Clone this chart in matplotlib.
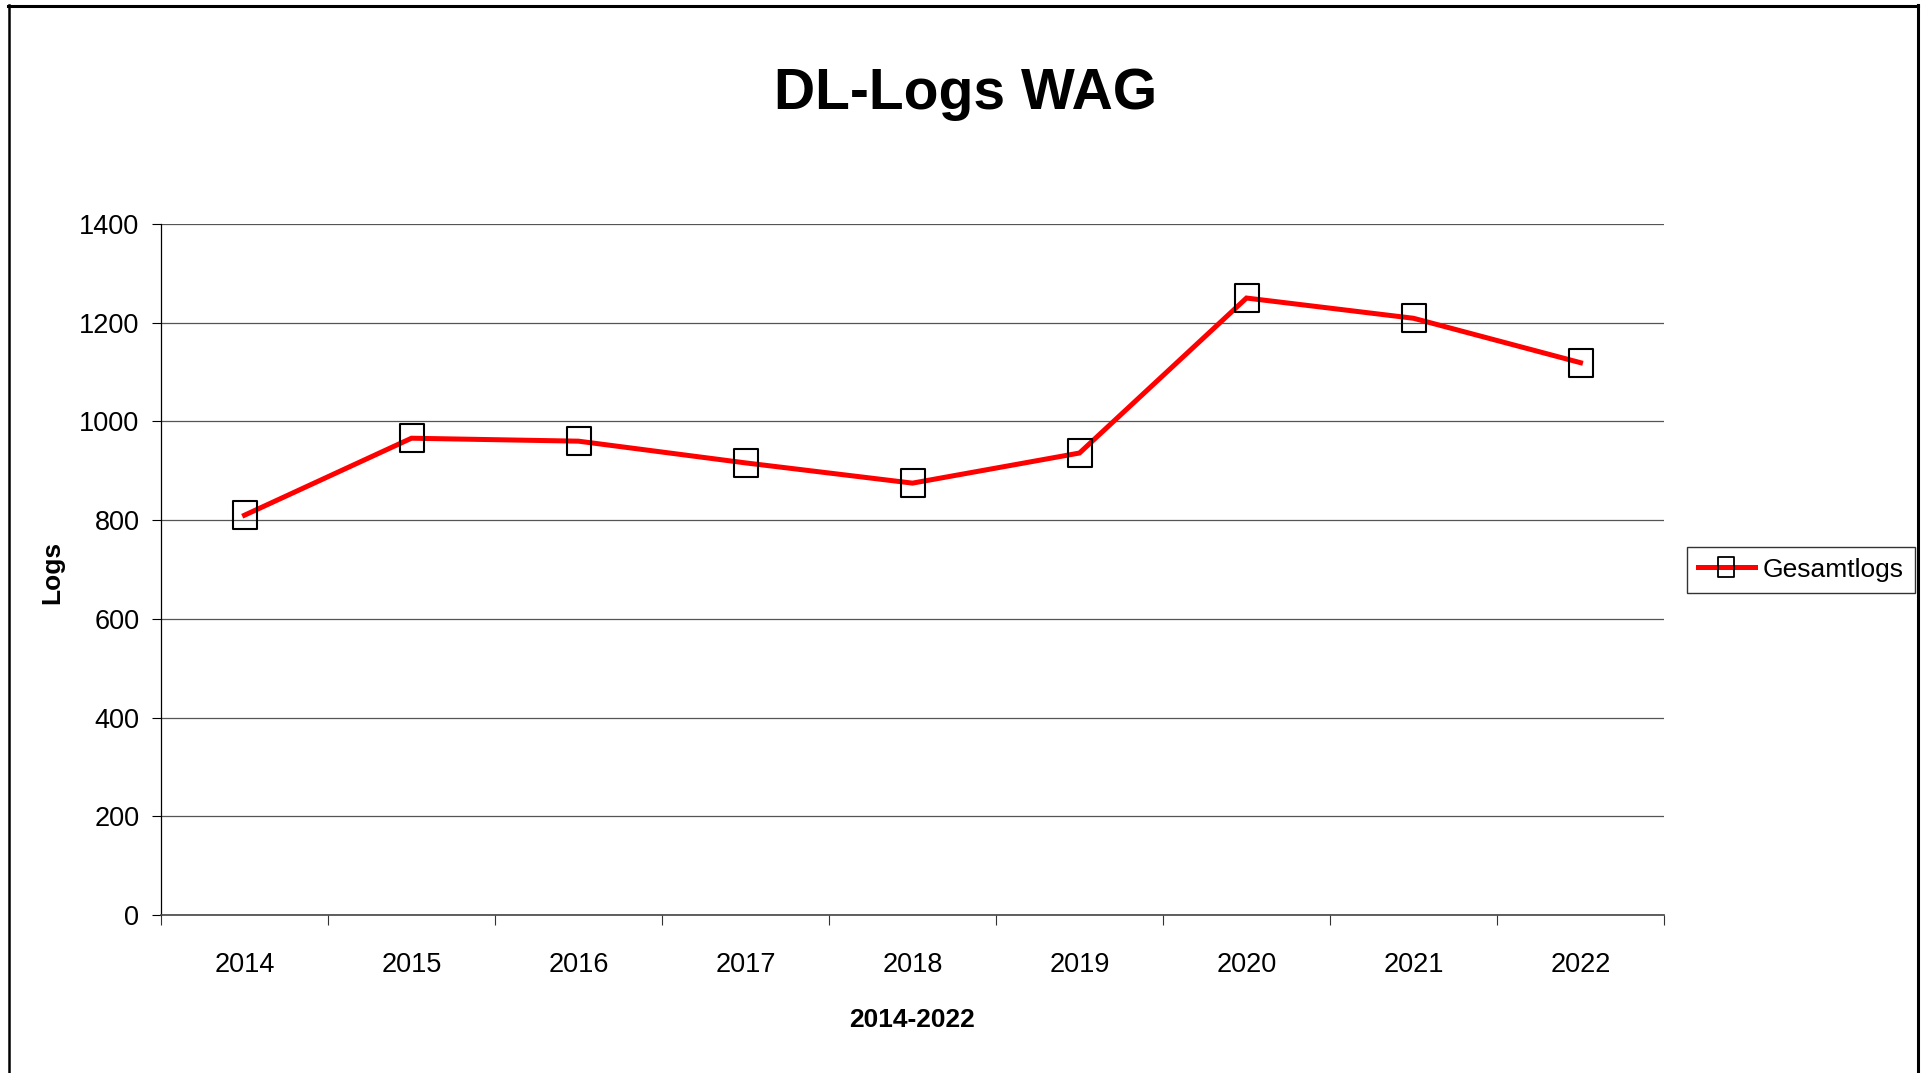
import matplotlib
matplotlib.use("Agg")
import matplotlib.pyplot as plt
from matplotlib.path import Path
from matplotlib.lines import Line2D

# ---- data ----
years = ["2014", "2015", "2016", "2017", "2018", "2019", "2020", "2021", "2022"]
gesamtlogs = [810, 966, 960, 916, 875, 936, 1250, 1209, 1119]
y_ticks = [0, 200, 400, 600, 800, 1000, 1200, 1400]
title = "DL-Logs WAG"
x_label = "2014-2022"
y_label = "Logs"
series_name = "Gesamtlogs"

FAM = ["Liberation Sans", "DejaVu Sans"]
plt.rcParams["font.family"] = FAM

W, H = 1929, 1073
fig = plt.figure(figsize=(W / 100, H / 100), dpi=100)
fig.patch.set_facecolor("white")

L, R, T, B = 161, 1664, 224, 915
ax = fig.add_axes([L / W, 1 - B / H, (R - L) / W, (B - T) / H])

x = list(range(len(years)))
marker = Path([(-0.42, -0.5), (0.42, -0.5), (0.42, 0.5), (-0.42, 0.5), (-0.42, -0.5)],
              [Path.MOVETO, Path.LINETO, Path.LINETO, Path.LINETO, Path.CLOSEPOLY])
ax.plot(x, gesamtlogs, color="#ff0000", lw=3.6, marker=marker, markersize=20,
        markerfacecolor="none", markeredgecolor="black", markeredgewidth=1.5,
        label=series_name, zorder=3, solid_joinstyle="miter")

ax.set_xlim(-0.5, len(years) - 0.5)
ax.set_ylim(0, 1400)
ax.set_yticks(y_ticks)
ax.set_yticklabels([str(v) for v in y_ticks], fontsize=19.5)
ax.set_xticks(x)
ax.set_xticklabels(years, fontsize=19.5)
ax.set_xticks([i - 0.5 for i in range(len(years) + 1)], minor=True)
ax.tick_params(axis="x", which="major", length=0, pad=27)
ax.tick_params(axis="x", which="minor", length=7, width=0.8, direction="out", color="#333333")
ax.tick_params(axis="y", length=6.5, width=0.8, direction="out", pad=9)

ax.grid(axis="y", color="#555555", lw=0.9)
ax.set_axisbelow(True)
for s in ["top", "right"]:
    ax.spines[s].set_visible(False)
ax.spines["left"].set_linewidth(0.9)
ax.spines["bottom"].set_linewidth(1.2)
ax.spines["bottom"].set_color("#444444")

ax.set_xlabel(x_label, fontsize=19, fontweight="bold")
ax.set_ylabel(y_label, fontsize=19, fontweight="bold")
ax.yaxis.set_label_coords((52 - L) / (R - L), (B - 572) / (B - T))
ax.xaxis.set_label_coords(0.5, (B - 1020) / (B - T))
ax.xaxis.label.set_verticalalignment("center")
ax.yaxis.label.set_verticalalignment("center")

fig.text(966 / W, 1 - 94 / H, title, fontsize=41, fontweight="bold",
         ha="center", va="center")

leg = ax.legend(loc="center left", bbox_to_anchor=(1686.7 / W, 1 - 569.7 / H),
                bbox_transform=fig.transFigure, fontsize=19, frameon=True,
                fancybox=False, edgecolor="#333333", framealpha=1,
                handlelength=2.15, handletextpad=0.3, borderpad=0.42, borderaxespad=0)
leg.get_frame().set_linewidth(1.0)
for h in leg.legend_handles:
    h.set_markersize(14)
    h.set_markeredgewidth(1.3)

# outer chart border (top, left, right)
def fx(px):
    return px / W
def fy(py):
    return 1 - py / H
fig.add_artist(Line2D([fx(8), fx(1918)], [fy(5.8), fy(5.8)], transform=fig.transFigure,
                      color="black", lw=2.2))
fig.add_artist(Line2D([fx(8.5), fx(8.5)], [fy(5), fy(1073)], transform=fig.transFigure,
                      color="black", lw=1.8))
fig.add_artist(Line2D([fx(1918), fx(1918)], [fy(5), fy(1073)], transform=fig.transFigure,
                      color="black", lw=2.2))

fig.savefig("out.png", dpi=100)
